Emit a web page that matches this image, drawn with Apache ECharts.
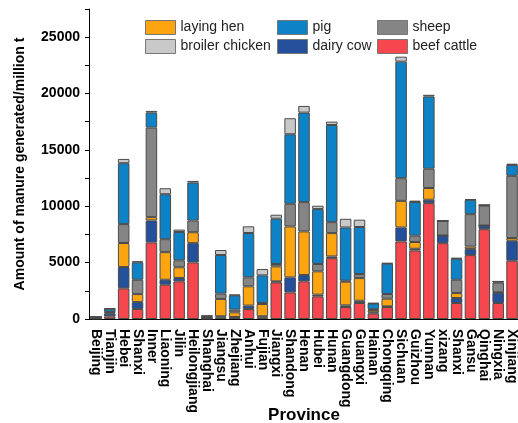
<!DOCTYPE html>
<html>
<head>
<meta charset="UTF-8">
<script src="https://cdn.jsdelivr.net/npm/echarts@6/dist/echarts.min.js"></script>
<style>
  html, body { margin: 0; padding: 0; background: #fff; }
  #chart { width: 518px; height: 423px; }
</style>
</head>
<body>
<div id="chart"></div>
<script>
// provinces on the x axis, left to right
const provinces = ['Beijing', 'Tianjin', 'Hebei', 'Shanxi', 'Inner', 'Liaoning', 'Jilin', 'Heilongjiang',
  'Shanghai', 'Jiangsu', 'Zhejiang', 'Anhui', 'Fujian', 'Jiangxi', 'Shandong', 'Henan', 'Hubei', 'Hunan',
  'Guangdong', 'Guangxi', 'Hainan', 'Chongqing', 'Sichuan', 'Guizhou', 'Yunnan', 'xizang', 'Shanxi',
  'Gansu', 'Qinghai', 'Ningxia', 'Xinjiang'];

// stacked from the bottom up
const beefCattle = [30, 230, 2720, 890, 6790, 3040, 3340, 5020, 20, 150, 120, 890, 150, 3250, 2360, 3340,
  2010, 5400, 1060, 1420, 490, 1060, 6880, 6080, 10280, 6730, 1420, 5670, 7970, 1420, 5170];
const dairyCow = [70, 250, 1890, 610, 1950, 440, 300, 1710, 40, 90, 60, 300, 90, 90, 1330, 560,
  150, 150, 150, 200, 100, 60, 1240, 150, 300, 680, 440, 530, 320, 900, 1770];
const layingHen = [30, 90, 2130, 710, 300, 2450, 950, 970, 20, 1540, 410, 1710, 1090, 1330, 4520, 3870,
  2070, 2070, 2100, 2010, 200, 680, 2360, 600, 1040, 0, 440, 230, 0, 50, 240];
const sheep = [10, 60, 1680, 1270, 7940, 1150, 620, 1030, 10, 470, 240, 800, 90, 210, 2010, 2600,
  650, 970, 90, 360, 80, 420, 2010, 560, 1710, 1300, 1180, 2870, 1770, 860, 5520];
const pig = [50, 280, 5400, 1550, 1330, 3990, 2510, 3370, 180, 3430, 1270, 3930, 2450, 4020, 6170, 7940,
  4870, 8620, 4720, 4170, 500, 2690, 10340, 2990, 6410, 0, 1860, 1270, 50, 100, 970];
const broilerChicken = [10, 40, 380, 90, 150, 530, 210, 150, 20, 440, 60, 590, 560, 350, 1420, 590,
  300, 300, 770, 650, 50, 60, 440, 120, 150, 0, 90, 60, 0, 0, 100];

const yTicks = [0, 5000, 10000, 15000, 20000, 25000];

const colors = {
  'beef cattle': '#F5474D',
  'dairy cow': '#234F9B',
  'laying hen': '#FCA511',
  'sheep': '#858585',
  'pig': '#0E82C7',
  'broiler chicken': '#C9C9C9'
};

function bar(name, data) {
  return {
    name: name,
    type: 'bar',
    stack: 'total',
    data: data,
    barCategoryGap: '17%',
    itemStyle: { color: colors[name], borderColor: '#4a4a4a', borderWidth: 1 }
  };
}

function legendCol(left, names) {
  return {
    orient: 'vertical',
    left: left,
    top: 15,
    icon: 'rect',
    itemWidth: 30,
    itemHeight: 14,
    itemGap: 4,
    data: names,
    itemStyle: { borderColor: '#777', borderWidth: 1 },
    textStyle: { fontFamily: 'Liberation Sans', fontSize: 14, color: '#222' },
    selectedMode: false
  };
}

const chart = echarts.init(document.getElementById('chart'));
chart.setOption({
  animation: false,
  grid: { left: 89, right: -1, top: 9, bottom: 104, outerBoundsMode: 'none', containLabel: false },
  legend: [
    legendCol(140, ['laying hen', 'broiler chicken']),
    legendCol(272, ['pig', 'dairy cow']),
    legendCol(372, ['sheep', 'beef cattle'])
  ],
  xAxis: {
    type: 'category',
    data: provinces,
    name: 'Province',
    nameLocation: 'middle',
    nameGap: 88,
    nameMoveOverlap: false,
    nameTextStyle: { fontFamily: 'Liberation Sans', fontSize: 17, fontWeight: 'bold', color: '#000' },
    axisLine: { lineStyle: { color: '#000', width: 1 } },
    axisTick: { alignWithLabel: true, length: 5, lineStyle: { color: '#000' } },
    axisLabel: {
      rotate: -90, interval: 0, margin: 10,
      fontFamily: 'Liberation Sans', fontSize: 14, fontWeight: 'bold', color: '#000'
    }
  },
  yAxis: {
    type: 'value',
    min: 0,
    max: 27500,
    interval: 2500,
    name: 'Amount of manure generated/million t',
    nameLocation: 'middle',
    nameGap: 62,
    nameMoveOverlap: false,
    nameTextStyle: { fontFamily: 'Liberation Sans', fontSize: 14, fontWeight: 'bold', color: '#000' },
    axisLine: { show: true, lineStyle: { color: '#000', width: 1 } },
    axisTick: { show: true, length: 4, lineStyle: { color: '#000' } },
    splitLine: { show: false },
    axisLabel: {
      margin: 9,
      fontFamily: 'Liberation Sans', fontSize: 14, fontWeight: 'bold', color: '#000',
      formatter: v => (yTicks.indexOf(v) >= 0 ? String(v) : '')
    }
  },
  series: [
    bar('beef cattle', beefCattle),
    bar('dairy cow', dairyCow),
    bar('laying hen', layingHen),
    bar('sheep', sheep),
    bar('pig', pig),
    bar('broiler chicken', broilerChicken)
  ]
});
</script>
</body>
</html>
